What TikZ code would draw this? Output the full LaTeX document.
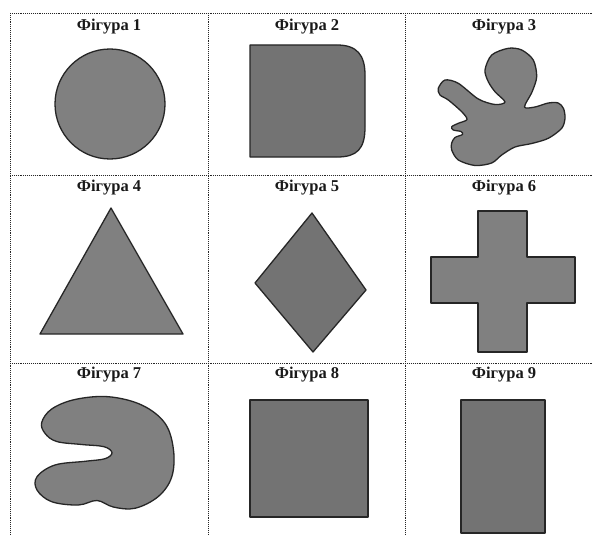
\documentclass[tikz,border=0pt]{standalone}
\usepackage{fontspec}
\setmainfont{Liberation Serif}
\begin{document}
\begin{tikzpicture}[x=1pt,y=-1pt,
  gridline/.style={densely dotted,line width=0.9pt,draw=black!85},
  figtitle/.style={font=\fontsize{16.5}{18}\selectfont\bfseries,inner sep=0pt,text=black!90},
  figshape/.style={fill=black!50,draw=black!85,line width=1.3pt,line join=round},
  darkshape/.style={figshape,fill=black!55}]
\useasboundingbox (0,0) rectangle (592,535);
\fill[white] (0,0) rectangle (592,535);
% grid
\draw[gridline] (10,13) -- (592,13);
\draw[gridline] (10,175) -- (592,175);
\draw[gridline] (10,363) -- (592,363);
\draw[gridline] (10,13) -- (10,535);
\draw[gridline] (208,13) -- (208,535);
\draw[gridline] (405,13) -- (405,535);
% titles
\node[figtitle] (t1) at (109,27) {Фігура 1};
\node[figtitle] (t2) at (307,27) {Фігура 2};
\node[figtitle] (t3) at (504,27) {Фігура 3};
\node[figtitle] (t4) at (109,188) {Фігура 4};
\node[figtitle] (t5) at (307,188) {Фігура 5};
\node[figtitle] (t6) at (504,188) {Фігура 6};
\node[figtitle] (t7) at (109,375) {Фігура 7};
\node[figtitle] (t8) at (307,375) {Фігура 8};
\node[figtitle] (t9) at (504,375) {Фігура 9};
% 1 circle
\draw[figshape] (110,104) circle[radius=55];
% 2 D-shape
\draw[darkshape] (250,45) -- (337,45) .. controls (357,45) and (365,55) .. (365,75)
  -- (365,127) .. controls (365,149) and (357,157) .. (337,157) -- (250,157) -- cycle;
% 3 blob
\draw[figshape] plot[smooth cycle,tension=0.5] coordinates {
 (508.3,48.3) (521.7,50) (533.3,60) (536.7,76.7) (532,92) (524.5,107)
 (535,107) (548.3,103) (558.3,103) (563.5,108.5) (565,118.3) (561.7,128.3)
 (548.3,138.3) (531.7,143.5) (515,147) (501.7,155) (491.7,163) (475,165.5)
 (458.3,160) (451.7,150) (451.7,143) (455,137.5) (462.5,134.5) (461,131.5)
 (453.3,130) (451.7,126.7) (458.3,123.3) (467,119.5) (461.7,111.7) (448.3,100)
 (440,95) (438.3,88.3) (445,80) (458.3,83.3) (478.3,99) (495,104.5) (505,102)
 (495,91.7) (488.3,81.7) (485,70) (491.7,55)};
% 4 triangle
\draw[figshape] (111,208) -- (183,334) -- (40,334) -- cycle;
% 5 diamond
\draw[darkshape] (312,213) -- (366,290) -- (313,352) -- (255,283) -- cycle;
% 6 cross
\draw[figshape] (478,211) -- (527,211) -- (527,257) -- (575,257) -- (575,303) -- (527,303)
  -- (527,352) -- (478,352) -- (478,303) -- (431,303) -- (431,257) -- (478,257) -- cycle;
% 7 blob
\draw[figshape] plot[smooth cycle,tension=0.6] coordinates {
 (45,433.3) (56.7,441.5) (81.7,444.5) (104,446.7) (112,452.7) (105,458.7) (85,461.3)
 (55,465) (37,476.7) (37,490) (51.7,501.7) (78.3,505) (97,500.5) (113.3,507)
 (135,508.3) (158.3,496.5) (171.7,477) (173.5,450) (165,423.3) (141.7,405) (108.3,396.7)
 (75,399.5) (51.7,409) (41.7,422.5)};
% 8 square
\draw[darkshape] (250,400) rectangle (368,517);
% 9 rectangle
\draw[darkshape] (461,400) rectangle (545,533);
\end{tikzpicture}
\end{document}
